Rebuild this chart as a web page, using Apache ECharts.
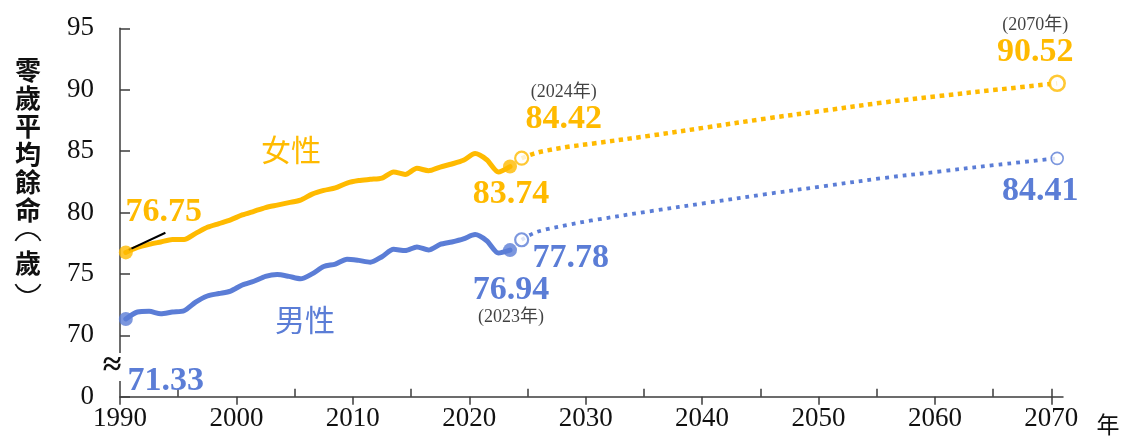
<!DOCTYPE html>
<html>
<head>
<meta charset="utf-8">
<script src="https://cdn.jsdelivr.net/npm/echarts@6/dist/echarts.min.js"></script>
<style>
  html, body { margin: 0; padding: 0; background: #ffffff; }
  #chart { width: 1123px; height: 437px; }
</style>
</head>
<body>
<div id="chart"></div>
<script>
// Life expectancy at birth, 1990–2023 (observed) and 2024–2070 (projected)
const histYears = [1990, 1991, 1992, 1993, 1994, 1995, 1996, 1997, 1998, 1999,
                   2000, 2001, 2002, 2003, 2004, 2005, 2006, 2007, 2008, 2009,
                   2010, 2011, 2012, 2013, 2014, 2015, 2016, 2017, 2018, 2019,
                   2020, 2021, 2022, 2023];
const femaleHist = [76.75, 77.15, 77.40, 77.60, 77.80, 77.80, 78.30, 78.80, 79.10, 79.40,
                    79.80, 80.10, 80.40, 80.60, 80.80, 81.00, 81.50, 81.80, 82.00, 82.40,
                    82.60, 82.70, 82.80, 83.30, 83.10, 83.60, 83.40, 83.70, 83.95, 84.25,
                    84.80, 84.30, 83.30, 83.74];
const maleHist   = [71.33, 71.90, 71.95, 71.75, 71.90, 72.00, 72.70, 73.20, 73.40, 73.60,
                    74.10, 74.40, 74.80, 74.95, 74.80, 74.60, 75.00, 75.60, 75.80, 76.20,
                    76.10, 75.95, 76.40, 77.00, 76.90, 77.20, 76.95, 77.40, 77.60, 77.85,
                    78.20, 77.70, 76.70, 76.94];

const projYears  = [2024, 2025, 2026, 2028, 2030, 2035, 2040, 2045, 2050, 2055, 2060, 2065, 2070];
const femaleProj = [84.42, 84.78, 85.02, 85.35, 85.60, 86.25, 86.95, 87.65, 88.30, 88.95, 89.50, 90.02, 90.52];
const maleProj   = [77.78, 78.30, 78.60, 79.00, 79.35, 80.10, 80.80, 81.50, 82.15, 82.80, 83.35, 83.90, 84.41];

// Axis ticks
const xLabelYears = [1990, 2000, 2010, 2020, 2030, 2040, 2050, 2060, 2070];
const xMinorYears = [1995, 2005, 2015, 2025, 2035, 2045, 2055, 2065, 2070];
const yBreakValue = 65;          // bottom of the broken axis, labelled as 0
const yBreakLabel = '0';

// Highlighted years
const filledYears = [1990, 2023];

const FEMALE = '#FFBA00';
const MALE = '#5B7DD6';
const SERIF = '"Liberation Serif", "Times New Roman", serif';
const SERIF_CJK = '"Liberation Serif", "Noto Sans CJK TC", serif';
const CJK = '"Noto Sans CJK TC", sans-serif';

// Each year's mark sits at mid-year on the axis
const MID = 0.5;
const toPoints = (years, vals) => years.map((y, i) => [y + MID, vals[i]]);
const lookup = (years, vals, y) => vals[years.indexOf(y)];
const valueOf = (y, hist, proj) =>
  histYears.includes(y) ? lookup(histYears, hist, y) : lookup(projYears, proj, y);

// Label placement for highlighted points: offset from the point and optional year note
const labelPlacement = {
  female: {
    1990: { offset: [38, -40] },
    2023: { offset: [1, 28] },
    2024: { offset: [42, -50], note: 'above' },
    2070: { offset: [-22, -42], note: 'above' }
  },
  male: {
    1990: { offset: [40, 62] },
    2023: { offset: [1, 51], note: 'below' },
    2024: { offset: [49, 18] },
    2070: { offset: [-17, 33] }
  }
};

function keyPoints(years, hist, proj, place, color, hollow, size, border) {
  return years.map(y => {
    const v = valueOf(y, hist, proj);
    const p = place[y];
    let fmt = '{v|' + v.toFixed(2) + '}';
    if (p.note === 'above') fmt = '{n|(' + y + '年)}\n' + fmt;
    if (p.note === 'below') fmt = fmt + '\n{n|(' + y + '年)}';
    return {
      value: [y + MID, v],
      symbolSize: size,
      itemStyle: hollow
        ? { color: '#ffffff', borderColor: color, borderWidth: border }
        : { color: color },
      label: {
        show: true,
        position: 'inside',
        offset: p.offset,
        formatter: fmt,
        textBorderWidth: 0,
        textShadowBlur: 0,
        rich: {
          v: { fontFamily: SERIF, fontWeight: 'bold', fontSize: 34, color: color, lineHeight: 32,
               textBorderWidth: 0, opacity: 1 },
          n: { fontFamily: SERIF_CJK, fontSize: 18, color: '#111', lineHeight: 22, textBorderWidth: 0 }
        }
      }
    };
  });
}

const femaleKeys = keyPoints(filledYears, femaleHist, femaleProj, labelPlacement.female, FEMALE, false, 14, 0)
  .concat(keyPoints([2024], femaleHist, femaleProj, labelPlacement.female, FEMALE, true, 13, 2.2))
  .concat(keyPoints([2070], femaleHist, femaleProj, labelPlacement.female, FEMALE, true, 15, 2.6));
const maleKeys = keyPoints(filledYears, maleHist, maleProj, labelPlacement.male, MALE, false, 14, 0)
  .concat(keyPoints([2024], maleHist, maleProj, labelPlacement.male, MALE, true, 13, 2.2))
  .concat(keyPoints([2070], maleHist, maleProj, labelPlacement.male, MALE, true, 12, 1.6));

const axisColor = '#3c3c3c';
const gridBox = { left: 120, right: 60, top: 28.3, bottom: 40.3 };

// Vertical axis title: characters stacked, brackets drawn as vertical-form arcs
const titleChars = ['零', '歲', '平', '均', '餘', '命', '︵', '歲', '︶'];
const titleRows  = [70, 98, 126, 154, 182, 210, 237, 263, 288];
const titleX = 28;
const ARC_R = 14, ARC_SPAN = 1.12;
const titleGraphics = titleChars.map((ch, i) => {
  if (ch === '︵' || ch === '︶') {
    const up = ch === '︵';
    const mid = up ? -Math.PI / 2 : Math.PI / 2;
    return {
      type: 'arc', z: 10,
      shape: {
        cx: titleX, cy: up ? titleRows[i] - 4 + ARC_R : titleRows[i] + 4 - ARC_R,
        r: ARC_R, startAngle: mid - ARC_SPAN, endAngle: mid + ARC_SPAN, clockwise: true
      },
      style: { stroke: '#111', lineWidth: 1.8, fill: null }
    };
  }
  return {
    type: 'text', x: titleX, y: titleRows[i], z: 10,
    style: {
      text: ch, font: 'bold 26px "Noto Sans CJK TC", sans-serif',
      fill: '#111', align: 'center', verticalAlign: 'middle'
    }
  };
});

const chart = echarts.init(document.getElementById('chart'), null, { renderer: 'canvas' });

chart.setOption({
  animation: false,
  backgroundColor: '#ffffff',
  grid: [Object.assign({}, gridBox), Object.assign({}, gridBox)],
  xAxis: [
    {
      type: 'value', gridIndex: 0, min: 1990, max: 2071, interval: 10,
      axisLine: { show: true, onZero: false, lineStyle: { color: axisColor, width: 1.5 } },
      axisTick: { show: true, customValues: xLabelYears, length: 8, lineStyle: { color: axisColor, width: 1.5 } },
      axisLabel: { customValues: xLabelYears, fontFamily: SERIF, fontSize: 27, color: '#111', margin: 9,
                   formatter: v => String(v) },
      splitLine: { show: false }
    },
    {
      type: 'value', gridIndex: 1, min: 1990, max: 2071, interval: 10,
      axisLine: { show: false, onZero: false },
      axisTick: { show: true, inside: true, customValues: xMinorYears, length: 8, lineStyle: { color: axisColor, width: 1.5 } },
      axisLabel: { show: false },
      splitLine: { show: false }
    }
  ],
  yAxis: [
    {
      type: 'value', gridIndex: 0, min: yBreakValue, max: 95, interval: 5,
      axisLine: { show: true, lineStyle: { color: axisColor, width: 1.5 } },
      axisTick: { show: true, inside: true, length: 10, lineStyle: { color: axisColor, width: 1.5 } },
      axisLabel: {
        fontFamily: SERIF, fontSize: 27, color: '#111', margin: 26,
        formatter: v => (v === yBreakValue ? yBreakLabel : String(v))
      },
      splitLine: { show: false }
    },
    {
      type: 'value', gridIndex: 1, min: yBreakValue, max: 95, show: false
    }
  ],
  series: [
    {
      name: '女性', type: 'line', data: toPoints(histYears, femaleHist),
      showSymbol: false, symbol: 'none', smooth: 0.25,
      lineStyle: { color: FEMALE, width: 5, cap: 'round', join: 'round' }, z: 3,
      markLine: {
        silent: true, symbol: ['none', 'none'],
        lineStyle: { color: '#000', width: 2, type: 'solid' },
        label: { show: false },
        data: [[{ coord: [1990.75, 76.95] }, { coord: [1993.9, 78.35] }]]
      }
    },
    {
      name: '男性', type: 'line', data: toPoints(histYears, maleHist),
      showSymbol: false, symbol: 'none', smooth: 0.25,
      lineStyle: { color: MALE, width: 5, cap: 'round', join: 'round' }, z: 3
    },
    {
      name: '女性推估', type: 'line', data: toPoints(projYears, femaleProj),
      showSymbol: false, symbol: 'none', smooth: 0.35,
      lineStyle: { color: FEMALE, width: 4.5, type: [4.5, 4.5] }, z: 3
    },
    {
      name: '男性推估', type: 'line', data: toPoints(projYears, maleProj),
      showSymbol: false, symbol: 'none', smooth: 0.35,
      lineStyle: { color: MALE, width: 3.8, type: [3.8, 5] }, z: 3
    },
    { name: '女性標示', type: 'scatter', data: femaleKeys, symbol: 'circle', z: 6 },
    { name: '男性標示', type: 'scatter', data: maleKeys, symbol: 'circle', z: 6 }
  ],
  graphic: titleGraphics.concat([
    // gap in the y axis line with the break mark
    { type: 'rect', shape: { x: 116, y: 353, width: 8, height: 28 }, style: { fill: '#ffffff' }, z: 100 },
    {
      type: 'text', x: 112, y: 366, z: 101,
      style: { text: '≈', font: 'bold 34px "Liberation Serif", serif', fill: '#111', align: 'center', verticalAlign: 'middle' }
    },
    // series names
    {
      type: 'text', x: 291, y: 150, z: 10,
      style: { text: '女性', font: '30px ' + CJK, fill: FEMALE, align: 'center', verticalAlign: 'middle' }
    },
    {
      type: 'text', x: 305, y: 320, z: 10,
      style: { text: '男性', font: '30px ' + CJK, fill: MALE, align: 'center', verticalAlign: 'middle' }
    },
    // unit of the x axis
    {
      type: 'text', x: 1108, y: 424, z: 10,
      style: { text: '年', font: '23px ' + CJK, fill: '#111', align: 'center', verticalAlign: 'middle' }
    }
  ])
});
</script>
</body>
</html>
